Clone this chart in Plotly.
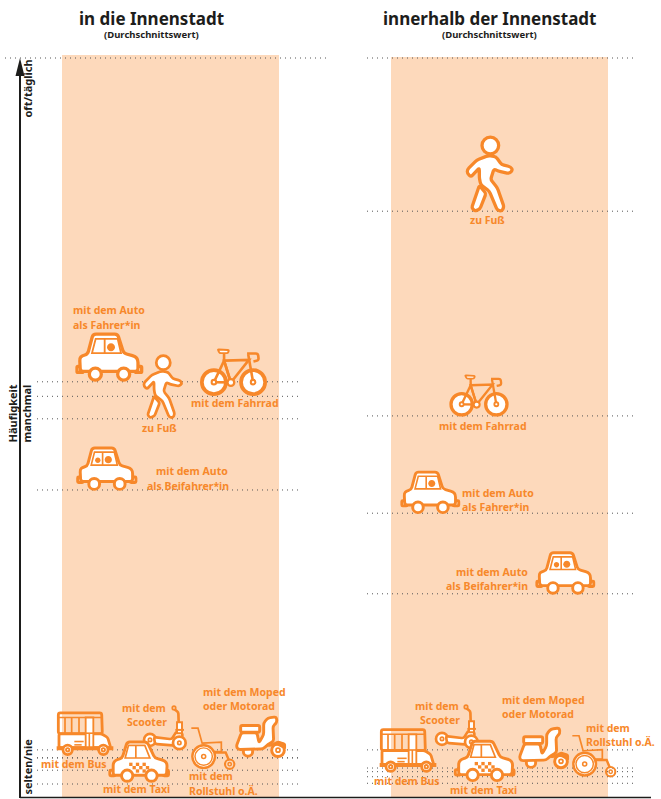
import plotly.graph_objects as go

# ---------- data: Häufigkeit per mode (0 = selten/nie, 100 = oft/täglich) ----------
modes = ["Scooter", "Bus", "Moped", "Rollstuhl", "Taxi", "Auto Fahrer", "Auto Beifahrer", "Fuss", "Fahrrad"]
in_die_innenstadt = [4.7, 3.6, 3.6, 1.9, 0.0, 55.4, 40.5, 50.3, 53.4]
innerhalb_innenstadt = [4.7, 1.7, 2.2, 1.0, 0.1, 37.3, 26.2, 78.9, 50.7]
titles = ["in die Innenstadt", "innerhalb der Innenstadt"]
subtitle = "(Durchschnittswert)"
axis_title = "Häufigkeit"
level_labels = ["oft/täglich", "manchmal", "selten/nie"]

# ---------- layout / style ----------
W, H = 661, 799
P0, P100 = 784.0, 58.0
UNIT = (P0 - P100) / 100.0
ORANGE, PEACH, DARK, DOT = "#F7882A", "#FDD9BB", "#1D1D1B", "#555555"
FONT = "Noto Sans"
STROKE = 1.22


def val(py):
    return (P0 - py) / UNIT


icon_x_left = [165, 85, 261, 213, 139.5, 109, 106.5, 163, 233.5]
icon_x_right = [457, 408, 544, 594, 485, 430, 565, 490, 479]
icon_dy_left = [0, 3, 1, 1, 2, 1, 0, 1, 1]
icon_dy_right = [1, 0, 0, 0, 2, 0, 0, 0, 0]
icon_scale_left = [1, 1, 1, 1, 1, 1, .9, .84, 1.13]
icon_scale_right = [1, 1, 1, 1, 1, .88, .88, 1, 1]

shapes = []


def frame(cx, cy, s):
    return lambda x, y: ((x - cx) / 3 * s, (cy - y) / 3 * s)


def f(v):
    return f"{v:.2f}"


def rpoly(T, pts, r=0, closed=True):
    n = len(pts)
    out = []
    if r == 0:
        for i, p in enumerate(pts):
            a, b = T(*p)
            out.append(("M" if i == 0 else "L") + f"{f(a)},{f(b)}")
    else:
        for i in range(n):
            p, q, nx = pts[i - 1], pts[i], pts[(i + 1) % n]
            if not closed and i in (0, n - 1):
                a, b = T(*q)
                out.append(("M" if i == 0 else "L") + f"{f(a)},{f(b)}")
                continue
            d1 = ((p[0] - q[0]) ** 2 + (p[1] - q[1]) ** 2) ** .5
            d2 = ((nx[0] - q[0]) ** 2 + (nx[1] - q[1]) ** 2) ** .5
            r1, r2 = min(r, d1 / 2), min(r, d2 / 2)
            a = T(q[0] + (p[0] - q[0]) * r1 / d1, q[1] + (p[1] - q[1]) * r1 / d1)
            b = T(*q)
            c = T(q[0] + (nx[0] - q[0]) * r2 / d2, q[1] + (nx[1] - q[1]) * r2 / d2)
            out.append(("M" if (i == 0) else "L") + f"{f(a[0])},{f(a[1])}")
            out.append(f"Q{f(b[0])},{f(b[1])} {f(c[0])},{f(c[1])}")
    return " ".join(out) + (" Z" if closed else "")


def circ(T, x, y, r, s):
    cx, cy = T(x, y)
    R = r / 3 * s
    k = R * .5523
    return (f"M{f(cx - R)},{f(cy)} "
            f"C{f(cx - R)},{f(cy + k)} {f(cx - k)},{f(cy + R)} {f(cx)},{f(cy + R)} "
            f"C{f(cx + k)},{f(cy + R)} {f(cx + R)},{f(cy + k)} {f(cx + R)},{f(cy)} "
            f"C{f(cx + R)},{f(cy - k)} {f(cx + k)},{f(cy - R)} {f(cx)},{f(cy - R)} "
            f"C{f(cx - k)},{f(cy - R)} {f(cx - R)},{f(cy - k)} {f(cx - R)},{f(cy)} Z")


def add(path, x, v, fill=None, lw=2.5, color=ORANGE):
    shapes.append(dict(type="path", path=path, xref="x", yref="y", xsizemode="pixel", ysizemode="pixel",
                       xanchor=x, yanchor=v, fillcolor=fill if fill else "rgba(0,0,0,0)",
                       line=dict(color=color, width=lw * STROKE) if lw else dict(width=0), layer="above"))


def rect(x0, y0, x1, y1):
    return [(x0, y0), (x1, y0), (x1, y1), (x0, y1)]


def car(x, v, s, passenger=False):
    T = frame(116, 168, s)
    lw = 2.7 * s
    add(rpoly(T, rect(20, 125, 38, 143), 3), x, v, "white", lw)
    add(rpoly(T, rect(195, 125, 214, 143), 3), x, v, "white", lw)
    body = [(68, 28), (142, 28), (160, 85), (195, 95), (203, 105), (203, 140), (30, 140), (28, 100), (35, 93), (52, 88)]
    add(rpoly(T, body, 9), x, v, "white", lw)
    add(rpoly(T, [(76, 42), (142, 42), (152, 85), (65, 85)], 0), x, v, None, 1.5 * s)
    add(rpoly(T, [(103, 42), (103, 85)], 0, False), x, v, None, 1.5 * s)
    add(circ(T, 122, 67, 12, s), x, v, ORANGE, 0)
    if passenger:
        add(circ(T, 87, 69, 9, s), x, v, ORANGE, 0)
    for wx in (75, 160):
        add(circ(T, wx, 148, 18, s), x, v, "white", lw)


def taxi(x, v, s):
    T = frame(269, 232, s)
    lw = 2.4 * s
    add(rpoly(T, rect(180, 197, 196, 213), 3), x, v, "white", lw)
    add(rpoly(T, rect(340, 197, 356, 213), 3), x, v, "white", lw)
    body = [(232, 112), (292, 112), (315, 160), (345, 168), (352, 178), (350, 212), (190, 212), (190, 175), (197, 167), (217, 160)]
    add(rpoly(T, body, 8), x, v, "white", lw)
    add(rpoly(T, [(236, 122), (285, 122), (300, 160), (226, 160)], 0), x, v, None, 1.4 * s)
    add(rpoly(T, [(258, 122), (258, 160)], 0, False), x, v, None, 1.4 * s)
    for cxx, cyy in [(238, 174), (258, 174), (278, 174), (248, 184), (268, 184), (288, 184), (258, 194), (278, 194)]:
        add(rpoly(T, rect(cxx, cyy, cxx + 10, cyy + 10), 0), x, v, ORANGE, 0)
    for wx in (232, 305):
        add(circ(T, wx, 213, 17, s), x, v, "white", lw)


def bus(x, v, s):
    T = frame(110, 150, s)
    lw = 2.3 * s
    add(rpoly(T, [(30, 24), (160, 24), (162, 86), (30, 86)], 6), x, v, None, lw)
    add(rpoly(T, [(32, 87), (160, 87), (178, 98), (187, 128), (32, 128)], 5), x, v, "white", lw)
    add(rpoly(T, [(32, 38), (160, 38)], 0, False), x, v, None, 1.2 * s)
    for wx in (50, 70, 92):
        add(rpoly(T, [(wx, 38), (wx, 86)], 0, False), x, v, None, 1.4 * s)
    add(rpoly(T, rect(112, 38, 135, 132), 0), x, v, "white", 1.5 * s)
    add(rpoly(T, [(123, 85), (123, 132)], 0, False), x, v, None, 1.3 * s)
    add(rpoly(T, [(112, 85), (135, 85)], 0, False), x, v, None, 1.3 * s)
    for ly, l in [(110, 106), (120, 100), (129, 92)]:
        add(rpoly(T, [(78, ly), (l, ly)], 0, False), x, v, None, 1.3 * s)
    add(rpoly(T, [(25, 130), (195, 130)], 0, False), x, v, None, 3.2 * s)
    for wx in (58, 165):
        add(circ(T, wx, 135, 14, s), x, v, "white", lw)
        add(circ(T, wx, 135, 5, s), x, v, None, 1.5 * s)


def scooter(x, v, s):
    T = frame(495, 208, s)
    lw = 2.2 * s
    add(circ(T, 450, 178, 18, s), x, v, "white", lw)
    add(circ(T, 450, 178, 5, s), x, v, None, 1.4 * s)
    deck = [(462, 170), (515, 176), (530, 152), (546, 155), (548, 170), (524, 195), (465, 190)]
    add(rpoly(T, deck, 6), x, v, "white", lw)
    add(circ(T, 538, 187, 19, s), x, v, "white", lw)
    add(circ(T, 538, 187, 5, s), x, v, None, 1.4 * s)
    add(rpoly(T, [(536, 125), (535, 95), (523, 86)], 5, False), x, v, None, lw)
    add(rpoly(T, rect(531, 125, 546, 158), 0), x, v, "white", 1.6 * s)
    add(rpoly(T, [(526, 148), (552, 148)], 0, False), x, v, None, 1.6 * s)
    add(circ(T, 522, 82, 5, s), x, v, "white", 1.5 * s)


def wheelchair(x, v, s):
    T = frame(220, 208, s)
    lw = 1.4 * s
    add(rpoly(T, [(155, 85), (175, 85), (188, 132)], 0, False), x, v, None, lw)
    add(rpoly(T, [(188, 130), (245, 127), (245, 155), (200, 155)], 0, False), x, v, None, lw)
    add(rpoly(T, [(215, 158), (258, 158), (268, 182)], 0, False), x, v, None, lw + .6)
    add(circ(T, 192, 170, 34, s), x, v, "white", 2.0 * s)
    add(circ(T, 192, 170, 26, s), x, v, None, 1.2 * s)
    add(circ(T, 192, 170, 6, s), x, v, None, 1.3 * s)
    add(circ(T, 270, 193, 14, s), x, v, None, 1.7 * s)
    add(circ(T, 270, 193, 5, s), x, v, None, 1.2 * s)


def moped(x, v, s):
    T = frame(364, 172, s)
    lw = 2.4 * s
    add(circ(T, 325, 156, 14, s), x, v, "white", lw)
    body = [(305, 100), (352, 100), (358, 130), (372, 105), (372, 70), (385, 55), (410, 52), (412, 68), (400, 80),
            (402, 125), (385, 135), (370, 148), (295, 150), (290, 140)]
    add(rpoly(T, body, 7), x, v, "white", lw)
    add(rpoly(T, rect(303, 78, 360, 98), 5), x, v, "white", lw)
    add(circ(T, 415, 152, 19, s), x, v, "white", lw)
    add(circ(T, 415, 152, 6, s), x, v, None, 1.4 * s)
    add(rpoly(T, [(385, 140), (415, 125), (437, 132), (437, 148), (415, 136)], 4), x, v, ORANGE, 1.2 * s)


def pedestrian(x, v, s):
    T = frame(390, 275, s)
    lw = 2.7 * s
    add(rpoly(T, [(358, 198), (378, 222), (360, 268), (345, 275), (335, 265)], 6), x, v, "white", lw)
    body = [(350, 122), (385, 108), (408, 112), (425, 135), (452, 142), (458, 152), (448, 162), (415, 155), (402, 148),
            (392, 180), (412, 205), (432, 262), (425, 275), (412, 272), (388, 215), (362, 195), (358, 175), (358, 145),
            (333, 172), (322, 162), (322, 150)]
    add(rpoly(T, body, 7), x, v, "white", lw)
    add(circ(T, 391, 78, 25, s), x, v, "white", lw)


def bike(x, v, s):
    T = frame(357, 887, s)
    lw = 2.7 * s
    thin = 1.9 * s
    for wx in (305, 409):
        add(circ(T, wx, 852, 32, s), x, v, "white", lw)
    add(rpoly(T, [(305, 852), (350, 853), (332, 795)], 0), x, v, None, thin)
    add(rpoly(T, [(332, 795), (398, 793), (350, 853)], 0), x, v, None, thin)
    add(rpoly(T, [(396, 778), (409, 852)], 0, False), x, v, None, thin)
    add(rpoly(T, [(332, 775), (332, 795)], 0, False), x, v, None, thin)
    add(rpoly(T, [(315, 765), (345, 767), (342, 775), (320, 775)], 3), x, v, "white", 1.4 * s)
    add(rpoly(T, [(393, 776), (422, 776), (424, 794), (410, 797)], 6, False), x, v, None, thin)
    for wx in (305, 409):
        add(circ(T, wx, 852, 6, s), x, v, "white", 1.5 * s)
    add(circ(T, 350, 853, 9, s), x, v, "white", 1.7 * s)


def draw_panel(values, xs, dys, scales):
    fns = [scooter, bus, moped, wheelchair, taxi, None, None, pedestrian, bike]
    for i in range(9):
        vv = values[i] + dys[i] / UNIT
        if modes[i] == "Auto Fahrer":
            car(xs[i], vv, scales[i])
        elif modes[i] == "Auto Beifahrer":
            car(xs[i], vv, scales[i], True)
        else:
            fns[i](xs[i], vv, scales[i])


fig = go.Figure()

# bands
for x0, x1, top in [(62, 279, 55), (391, 608, 57)]:
    fig.add_trace(go.Bar(x=[(x0 + x1) / 2], y=[val(top) - val(797)], base=[val(797)], width=[x1 - x0],
                         marker=dict(color=PEACH, line=dict(width=0)), showlegend=False, hoverinfo="skip"))


# dotted guides
def guide(x0, x1, v):
    fig.add_trace(go.Scatter(x=[x0, x1], y=[v, v], mode="lines", showlegend=False, hoverinfo="skip",
                             line=dict(color=DOT, width=1, dash="1px,4px")))


for v in in_die_innenstadt:
    guide(37, 302, v)
for v in innerhalb_innenstadt:
    guide(367, 634, v)
guide(5, 330, 100)
guide(367, 634, 100)

draw_panel(in_die_innenstadt, icon_x_left, icon_dy_left, icon_scale_left)
draw_panel(innerhalb_innenstadt, icon_x_right, icon_dy_right, icon_scale_right)

# axis arrow and baseline
shapes.append(dict(type="line", xref="x", yref="y", x0=20, x1=20, y0=val(798), y1=val(72),
                   line=dict(color=DARK, width=2)))
shapes.append(dict(type="path", xref="x", yref="y",
                   path=f"M15.5,{val(76):.2f} L20,{val(58):.2f} L24.5,{val(76):.2f} Z", fillcolor=DARK,
                   line=dict(width=0)))
shapes.append(dict(type="line", xref="x", yref="y", x0=20, x1=651, y0=val(797.5), y1=val(797.5),
                   line=dict(color=DARK, width=1.5)))

ann = []


def txt(s, x, py, anchor="left", size=10.5, color=ORANGE, angle=0):
    ann.append(dict(text=f"<b>{s}</b>", x=x, y=1 - py / H, xref="x", yref="paper", xanchor=anchor, yanchor="middle",
                    showarrow=False, textangle=angle, font=dict(family=FONT, size=size, color=color),
                    borderpad=0, borderwidth=0))


txt(titles[0], 151, 18.5, "center", 17, DARK)
txt(titles[1], 489, 18.5, "center", 17, DARK)
txt(subtitle, 151, 34.5, "center", 9.5, DARK)
txt(subtitle, 489, 34.5, "center", 9.5, DARK)
txt(axis_title, 11.5, 414, "center", 11, DARK, -90)
txt(level_labels[1], 25.5, 414, "center", 11, DARK, -90)
txt(level_labels[0], 26.5, 89, "center", 11, DARK, -90)
txt(level_labels[2], 26.5, 767, "center", 11, DARK, -90)

for s, x, py, a in [("mit dem Auto", 73, 310, "left"), ("als Fahrer*in", 73, 325, "left"),
                    ("zu Fuß", 159, 428, "center"), ("mit dem Fahrrad", 235, 403, "center"),
                    ("mit dem Auto", 228, 471, "right"), ("als Beifahrer*in", 229, 486, "right"),
                    ("mit dem Bus", 73.5, 764, "center"), ("mit dem", 144, 708, "center"), ("Scooter", 147, 722, "center"),
                    ("mit dem Moped", 203, 692, "left"), ("oder Motorad", 203, 706, "left"),
                    ("mit dem Taxi", 136.5, 789, "center"), ("mit dem", 189, 776, "left"), ("Rollstuhl o.Ä.", 189, 791, "left"),
                    ("zu Fuß", 487.5, 220, "center"), ("mit dem Fahrrad", 482.5, 426, "center"),
                    ("mit dem Auto", 462, 493, "left"), ("als Fahrer*in", 462, 507, "left"),
                    ("mit dem Auto", 528, 572, "right"), ("als Beifahrer*in", 528, 586, "right"),
                    ("mit dem Bus", 407, 781, "center"), ("mit dem", 436.5, 706, "center"), ("Scooter", 439.5, 720, "center"),
                    ("mit dem Moped", 502, 700, "left"), ("oder Motorad", 502, 714, "left"),
                    ("mit dem Taxi", 483, 790, "center"), ("mit dem", 586, 728, "left"), ("Rollstuhl o.Ä.", 586, 742, "left")]:
    txt(s, x, py, a)

fig.update_layout(
    width=W, height=H, margin=dict(l=0, r=0, t=0, b=0), paper_bgcolor="white", plot_bgcolor="white",
    shapes=shapes, annotations=ann, showlegend=False, bargap=0,
    xaxis=dict(range=[0, W], visible=False, fixedrange=True),
    yaxis=dict(range=[val(H), val(0)], visible=False, fixedrange=True),
)
fig.write_html("out.html", config=dict(displayModeBar=False),
               post_script="document.body.style.margin='0';document.documentElement.style.overflow='hidden';")
